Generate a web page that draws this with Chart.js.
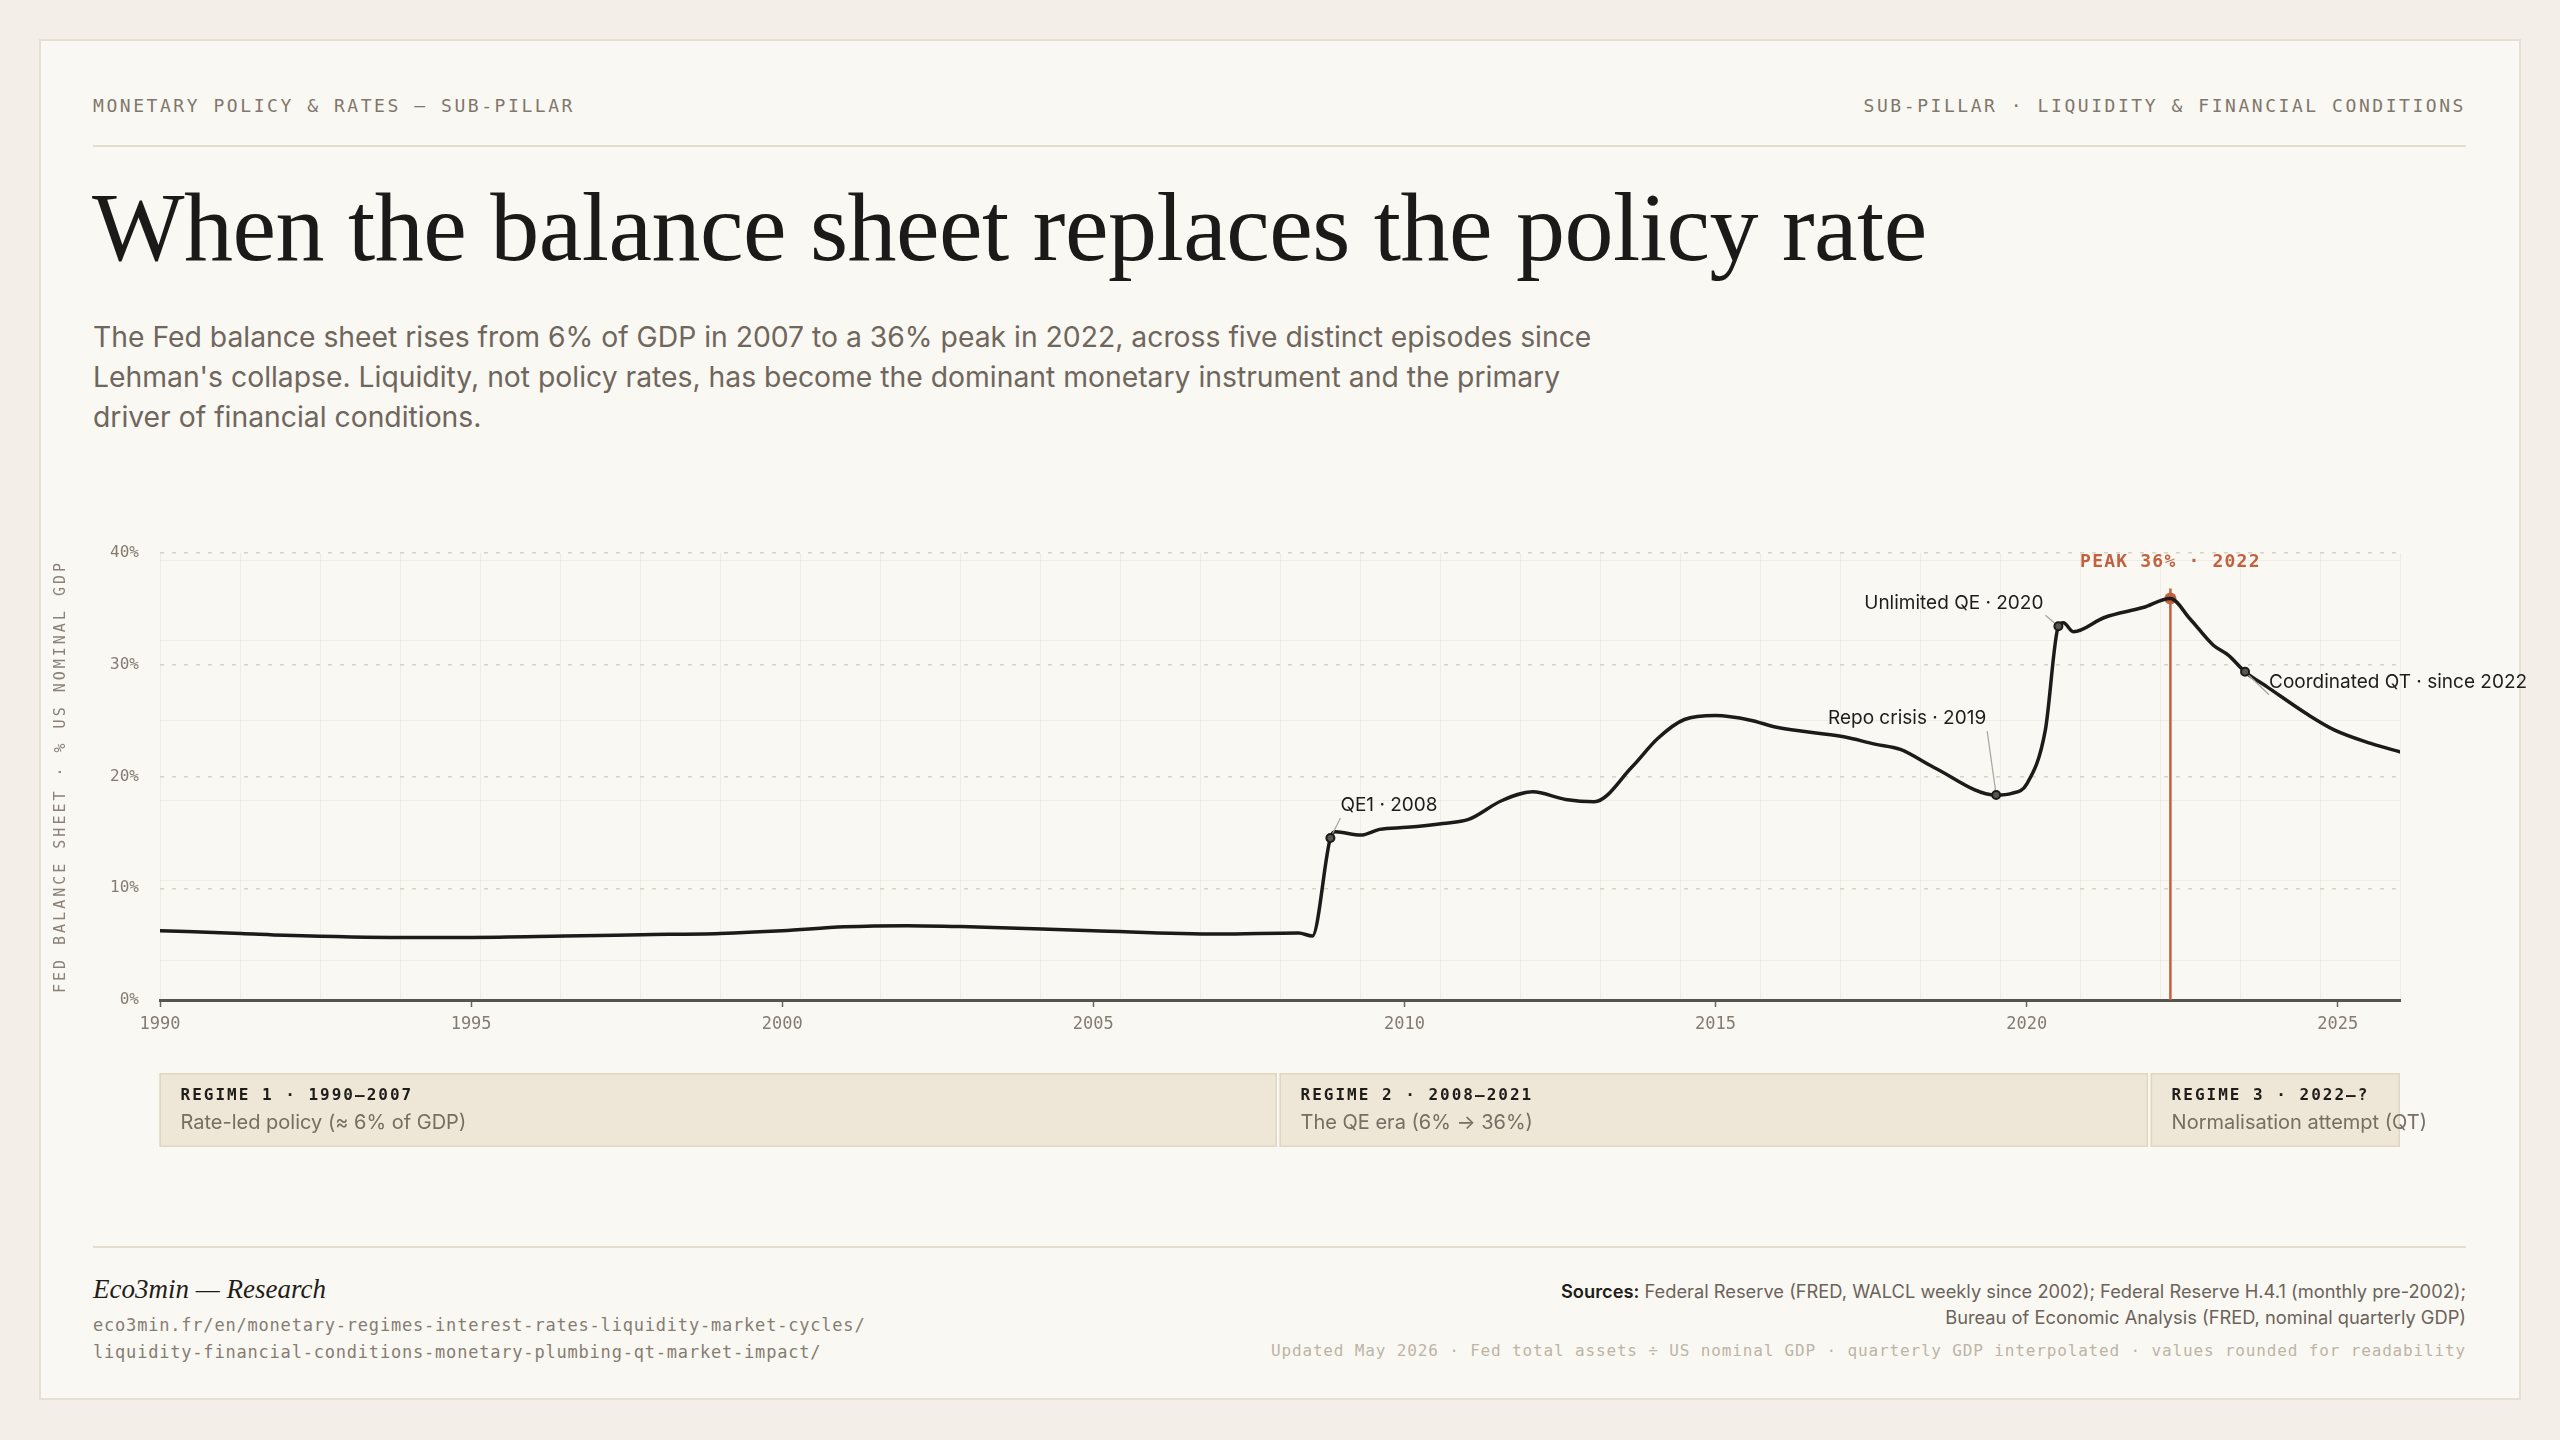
<!DOCTYPE html>
<html>
<head>
<meta charset="utf-8">
<script src="https://cdn.jsdelivr.net/npm/chart.js@4.4.1/dist/chart.umd.min.js"></script>
<style>
  html, body { margin: 0; padding: 0; }
  body { width: 2560px; height: 1440px; background: #f3efe8; position: relative; overflow: hidden; }
  .card { position: absolute; left: 39px; top: 39px; width: 2482px; height: 1361px; box-sizing: border-box; background: #faf8f2; border: 2px solid #e6e0d4; }
  .abs { position: absolute; white-space: nowrap; }
  .mono { font-family: "DejaVu Sans Mono", "Liberation Mono", monospace; }
  .kicker { font-size: 18px; letter-spacing: 2.55px; color: #7f776d; line-height: 24px; top: 94px; }
  .rule { position: absolute; left: 93px; width: 2373px; height: 2px; background: #e4ddd0; }
  .title { left: 92px; top: 178px; font-family: "Liberation Serif", "DejaVu Serif", serif; font-size: 98px; line-height: 1; color: #1c1a18; letter-spacing: -0.5px; }
  .sub { left: 93px; top: 317px; font-family: Inter, "Noto Sans", sans-serif; font-size: 28.3px; line-height: 40px; color: #6f665d; }
  #wrap { position: absolute; left: 40px; top: 520px; width: 2500px; height: 660px; }
  .brand { left: 93px; top: 1273px; font-family: "Liberation Serif", serif; font-style: italic; font-size: 27px; line-height: 32px; color: #1f1d1a; }
  .url { left: 93px; top: 1312px; font-size: 17px; letter-spacing: 0.8px; line-height: 27px; color: #857c72; }
  .src { right: 94px; top: 1278px; text-align: right; font-family: Inter, "Noto Sans", sans-serif; font-size: 18.3px; line-height: 26px; color: #6b635b; }
  .src b { color: #1f1d1a; font-weight: 600; }
  .upd { right: 94px; top: 1340px; font-size: 16px; letter-spacing: 0.85px; line-height: 22px; color: #bcb4a7; }
</style>
</head>
<body>
<div class="card"></div>
<div class="abs mono kicker" style="left:93px;">MONETARY POLICY &amp; RATES — SUB-PILLAR</div>
<div class="abs mono kicker" style="right:94px;">SUB-PILLAR · LIQUIDITY &amp; FINANCIAL CONDITIONS</div>
<div class="rule" style="top:145px;"></div>
<div class="abs title">When the balance sheet replaces the policy rate</div>
<div class="abs sub">The Fed balance sheet rises from 6% of GDP in 2007 to a 36% peak in 2022, across five distinct episodes since<br>Lehman's collapse. Liquidity, not policy rates, has become the dominant monetary instrument and the primary<br>driver of financial conditions.</div>
<div id="wrap"><canvas id="c"></canvas></div>
<div class="rule" style="top:1246px;"></div>
<div class="abs brand">Eco3min — Research</div>
<div class="abs mono url">eco3min.fr/en/monetary-regimes-interest-rates-liquidity-market-cycles/<br>liquidity-financial-conditions-monetary-plumbing-qt-market-impact/</div>
<div class="abs src"><b>Sources:</b> Federal Reserve (FRED, WALCL weekly since 2002); Federal Reserve H.4.1 (monthly pre-2002);<br>Bureau of Economic Analysis (FRED, nominal quarterly GDP)</div>
<div class="abs mono upd">Updated May 2026 · Fed total assets ÷ US nominal GDP · quarterly GDP interpolated · values rounded for readability</div>
<script>
// ---- data ----
const years = [1990.0, 1991.3, 1992.0, 1993.9, 1995.0, 1996.5, 1997.75, 1999.0, 2000.0, 2001.0, 2002.0, 2003.0, 2005.0, 2007.0, 2008.3, 2008.52,
  2008.81, 2008.89, 2009.3, 2009.6, 2010.04, 2010.62, 2011.03, 2011.56, 2012.06, 2012.59, 2013.05, 2013.66, 2014.07, 2014.5, 2015.0,
  2015.56, 2015.98, 2017.06, 2017.56, 2017.97, 2018.51, 2019.51, 2019.76, 2020.0, 2020.3, 2020.51, 2020.59, 2020.75, 2021.25, 2021.87,
  2022.31, 2022.62, 2023.0, 2023.24, 2023.51, 2023.87, 2024.53, 2024.95, 2025.53, 2026.0];
const values = [6.2, 5.96, 5.8, 5.6, 5.6, 5.72, 5.84, 5.96, 6.2, 6.55, 6.65, 6.55, 6.2, 5.9, 6.0, 5.72,
  14.5, 15.05, 14.76, 15.27, 15.45, 15.8, 16.16, 17.83, 18.63, 17.95, 17.74, 20.87, 23.4, 25.1, 25.45,
  25.04, 24.4, 23.55, 22.9, 22.42, 20.81, 18.34, 18.49, 19.32, 24.15, 33.45, 33.75, 32.95, 34.23, 35.12,
  35.93, 34.14, 31.75, 30.86, 29.37, 28.0, 25.5, 24.15, 22.96, 22.2];
const xTicks = [1990, 1995, 2000, 2005, 2010, 2015, 2020, 2025];
const yTicks = [0, 10, 20, 30, 40];
const yTitle = 'FED BALANCE SHEET · % US NOMINAL GDP';
const annoLabels = ['QE1 · 2008', 'Repo crisis · 2019', 'Unlimited QE · 2020', 'Coordinated QT · since 2022'];
const annoYears = [2008.81, 2019.51, 2020.51, 2023.51];
const annoValues = [14.5, 18.34, 33.45, 29.37];
const peakLabel = 'PEAK 36% · 2022';
const regimeStarts = [1990, 2008, 2022];
const regimeEnds = [2008, 2022, 2026];
const regimeTitles = ['REGIME 1 · 1990–2007', 'REGIME 2 · 2008–2021', 'REGIME 3 · 2022–?'];
const regimeDescs = ['Rate-led policy (≈ 6% of GDP)', 'The QE era (6% → 36%)', 'Normalisation attempt (QT)'];

// ---- layout / style (not data) ----
const MONO = '"DejaVu Sans Mono", "Liberation Mono", monospace';
const SANS = 'Inter, "Noto Sans", sans-serif';
const annoLayout = [
  { dx: 10, dy: -33, lx: 10, ly: -20, align: 'left' },
  { dx: -10, dy: -77, lx: -9, ly: -64, align: 'right' },
  { dx: -15, dy: -23, lx: -13, ly: -11, align: 'right' },
  { dx: 24, dy: 10, lx: 24, ly: 23, align: 'left' }
];
const peakIdx = values.indexOf(Math.max(...values));

const decor = {
  id: 'decor',
  beforeDraw(chart) {
    const { ctx, chartArea: a } = chart;
    const r = chart.canvas.getBoundingClientRect();
    ctx.save();
    ctx.strokeStyle = 'rgba(110,90,60,0.07)';
    ctx.lineWidth = 1;
    ctx.beginPath();
    for (let px = Math.ceil((r.left + a.left) / 80) * 80; px <= r.left + a.right; px += 80) {
      const x = Math.round(px - r.left) + 0.5; ctx.moveTo(x, a.top); ctx.lineTo(x, a.bottom);
    }
    for (let py = Math.ceil((r.top + a.top) / 80) * 80; py <= r.top + a.bottom; py += 80) {
      const y = Math.round(py - r.top) + 0.5; ctx.moveTo(a.left, y); ctx.lineTo(a.right, y);
    }
    ctx.stroke();
    ctx.restore();
  },
  beforeDatasetsDraw(chart) {
    const { ctx, chartArea: a, scales: { x: xs, y: ys } } = chart;
    const px = xs.getPixelForValue(years[peakIdx]), py = ys.getPixelForValue(values[peakIdx]);
    ctx.save();
    ctx.strokeStyle = '#c4603f'; ctx.lineWidth = 2.5;
    ctx.beginPath(); ctx.moveTo(px, py - 10); ctx.lineTo(px, a.bottom); ctx.stroke();
    ctx.beginPath(); ctx.arc(px, py, 6, 0, Math.PI * 2); ctx.fillStyle = '#c4603f'; ctx.fill();
    ctx.restore();
  },
  afterDatasetsDraw(chart) {
    const { ctx, chartArea: a, scales: { x: xs, y: ys } } = chart;
    ctx.save();
    annoLabels.forEach((t, i) => {
      const px = xs.getPixelForValue(annoYears[i]), py = ys.getPixelForValue(annoValues[i]);
      const L = annoLayout[i];
      ctx.strokeStyle = '#aba398'; ctx.lineWidth = 1.2;
      ctx.beginPath(); ctx.moveTo(px, py); ctx.lineTo(px + L.lx, py + L.ly); ctx.stroke();
      ctx.beginPath(); ctx.arc(px, py, 4, 0, Math.PI * 2);
      ctx.fillStyle = '#5a554e'; ctx.fill(); ctx.lineWidth = 2; ctx.strokeStyle = '#1c1b19'; ctx.stroke();
      ctx.font = `19px ${SANS}`; ctx.fillStyle = '#1f1d1b'; ctx.textAlign = L.align; ctx.textBaseline = 'middle';
      ctx.fillText(t, px + L.dx, py + L.dy);
    });
    // peak label
    const pk = xs.getPixelForValue(years[peakIdx]);
    ctx.font = `bold 18px ${MONO}`; ctx.letterSpacing = '1.2px';
    ctx.fillStyle = '#c2613f'; ctx.textAlign = 'center'; ctx.textBaseline = 'middle';
    ctx.fillText(peakLabel, pk, a.top + 9);
    ctx.restore();
  },
  afterDraw(chart) {
    const { ctx, chartArea: a, scales: { x: xs } } = chart;
    ctx.save();
    // y title
    ctx.translate(21, (a.top + a.bottom) / 2); ctx.rotate(-Math.PI / 2);
    ctx.font = `15px ${MONO}`; ctx.letterSpacing = '3px'; ctx.fillStyle = '#8a8278';
    ctx.textAlign = 'center'; ctx.textBaseline = 'middle';
    ctx.fillText(yTitle, 0, 0);
    ctx.restore();
    // regime bands
    ctx.save();
    regimeStarts.forEach((s, i) => {
      const last = i === regimeStarts.length - 1;
      const x0 = xs.getPixelForValue(s) - 0.5;
      const x1 = xs.getPixelForValue(regimeEnds[i]) - (last ? 0 : 3);
      const y0 = a.bottom + 73, y1 = a.bottom + 147;
      ctx.fillStyle = '#eee6d6'; ctx.fillRect(x0, y0, x1 - x0, y1 - y0);
      ctx.strokeStyle = '#e0d6c2'; ctx.lineWidth = 1.5; ctx.strokeRect(x0 + 0.75, y0 + 0.75, x1 - x0 - 1.5, y1 - y0 - 1.5);
      ctx.textAlign = 'left'; ctx.textBaseline = 'middle';
      ctx.font = `bold 16px ${MONO}`; ctx.letterSpacing = '2px'; ctx.fillStyle = '#1f1d1a';
      ctx.fillText(regimeTitles[i], x0 + 21, a.bottom + 96);
      ctx.font = `20px ${SANS}`; ctx.letterSpacing = '0px'; ctx.fillStyle = '#766d63';
      ctx.fillText(regimeDescs[i], x0 + 21, a.bottom + 123);
    });
    ctx.restore();
  }
};

new Chart(document.getElementById('c'), {
  type: 'line',
  data: {
    datasets: [{
      data: years.map((x, i) => ({ x, y: values[i] })),
      borderColor: '#1c1b19', borderWidth: 3.5, pointRadius: 0, pointHoverRadius: 0,
      cubicInterpolationMode: 'monotone', fill: false, borderJoinStyle: 'round', borderCapStyle: 'round'
    }]
  },
  options: {
    responsive: true, maintainAspectRatio: false, animation: false,
    layout: { padding: { top: 33, right: 140, bottom: 120, left: 0 } },
    plugins: { legend: { display: false }, tooltip: { enabled: false } },
    events: [],
    scales: {
      x: {
        type: 'linear', min: 1990, max: 2026,
        afterBuildTicks: s => { s.ticks = xTicks.map(v => ({ value: v })); },
        afterFit: s => { s.height = 60; },
        ticks: { callback: v => String(v), font: { family: MONO, size: 17 }, color: '#847b71', padding: 7, maxRotation: 0, autoSkip: false },
        grid: { drawOnChartArea: false, drawTicks: true, tickLength: 7, tickColor: '#6a665f', tickWidth: 1.5, color: '#6a665f' },
        border: { display: true, color: '#57534d', width: 3 }
      },
      y: {
        min: 0, max: 40,
        afterBuildTicks: s => { s.ticks = yTicks.map(v => ({ value: v })); },
        afterFit: s => { s.width = 120; },
        ticks: { callback: v => v + '%', font: { family: MONO, size: 16 }, color: '#847b71', padding: 21 },
        grid: { color: '#d8d1c4', lineWidth: 1.5, drawTicks: false },
        border: { display: false, dash: [4, 8] }
      }
    }
  },
  plugins: [decor]
});
</script>
</body>
</html>
